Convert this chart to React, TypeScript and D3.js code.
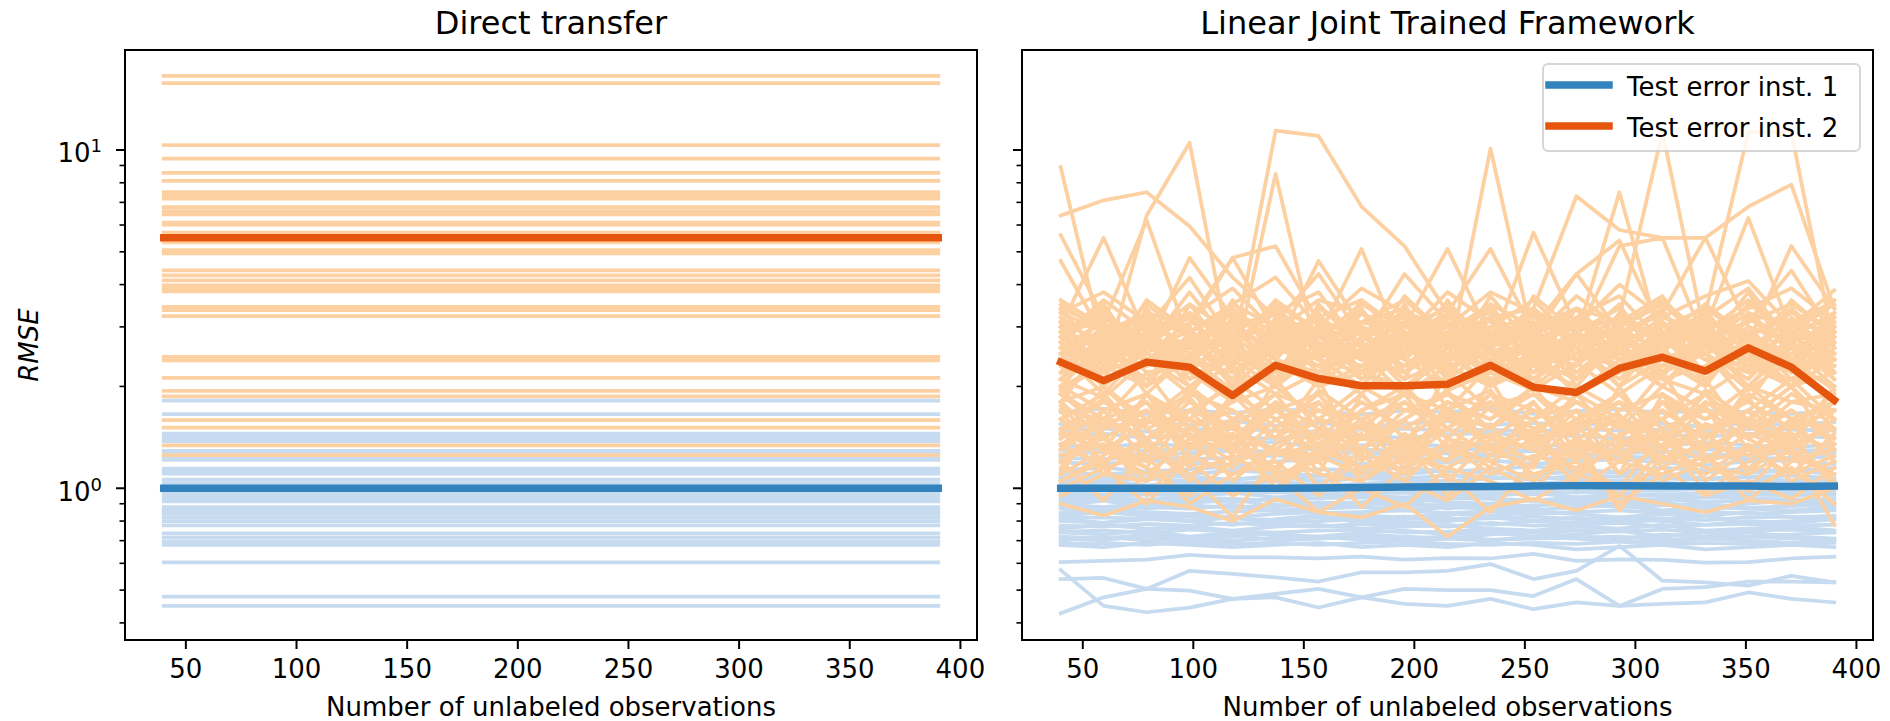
import React from "react";
import * as d3 from "d3";

// ---------- data ----------
const xs = [40, 59.44, 78.89, 98.33, 117.78, 137.22, 156.67, 176.11, 195.56, 215, 234.44, 253.89, 273.33, 292.78, 312.22, 331.67, 351.11, 370.56, 390];
const xTicks = [50, 100, 150, 200, 250, 300, 350, 400];
const yMajorTicks = [1, 10];
const yMinorTicks = [0.4, 0.5, 0.6, 0.7, 0.8, 0.9, 2, 3, 4, 5, 6, 7, 8, 9];

// Direct transfer: constant errors per instance
const leftOrange = [16.55, 15.75, 10.33, 9.43, 8.55, 8.11, 7.51, 7.34, 7.18, 6.78, 6.6, 6.45, 6.1, 6.02, 5.7, 5.33, 5.06, 4.95, 4.41, 4.26, 4.12, 3.98, 3.9, 3.82, 3.44, 3.36, 3.23, 2.446, 2.39, 2.12, 1.94, 1.87, 1.59, 1.51, 1.34, 1.254];
const leftBlue = [1.815, 1.655, 1.45, 1.42, 1.395, 1.376, 1.29, 1.27, 1.235, 1.214, 1.144, 1.125, 1.104, 1.06, 1.035, 0.975, 0.955, 0.935, 0.915, 0.88, 0.86, 0.84, 0.82, 0.8, 0.777, 0.735, 0.715, 0.695, 0.68, 0.604, 0.478, 0.449];
const leftOrangeMean = 5.5;
const leftBlueMean = 1.0;

// Linear Joint Trained Framework
const rightOrangeMean = [2.36, 2.08, 2.36, 2.28, 1.88, 2.31, 2.11, 2.01, 2.01, 2.03, 2.31, 1.99, 1.92, 2.26, 2.44, 2.22, 2.6, 2.28, 1.82];
const rightBlueMean = [1.0, 1.0, 1.0, 1.0, 1.0, 1.0, 1.002, 1.005, 1.008, 1.01, 1.012, 1.015, 1.018, 1.018, 1.015, 1.015, 1.015, 1.012, 1.015];

const rightBlueLow = [
  [0.427, 0.476, 0.504, 0.57, 0.558, 0.545, 0.53, 0.564, 0.564, 0.57, 0.597, 0.539, 0.57, 0.676, 0.533, 0.527, 0.515, 0.551, 0.527],
  [0.573, 0.449, 0.43, 0.444, 0.471, 0.476, 0.444, 0.476, 0.455, 0.449, 0.471, 0.439, 0.46, 0.449, 0.455, 0.46, 0.492, 0.471, 0.46],
  [0.539, 0.543, 0.504, 0.498, 0.471, 0.487, 0.504, 0.476, 0.504, 0.5, 0.5, 0.48, 0.539, 0.449, 0.504, 0.51, 0.53, 0.53, 0.527],
  [0.605, 0.61, 0.615, 0.635, 0.625, 0.625, 0.62, 0.628, 0.615, 0.622, 0.62, 0.64, 0.61, 0.616, 0.614, 0.603, 0.605, 0.62, 0.628],
];

const rightBlueDense = [
  [0.68, 0.67, 0.69, 0.68, 0.67, 0.68, 0.69, 0.67, 0.68, 0.67, 0.69, 0.68, 0.66, 0.67, 0.68, 0.66, 0.67, 0.68, 0.67],
  [0.7, 0.72, 0.7, 0.71, 0.73, 0.7, 0.71, 0.72, 0.7, 0.71, 0.7, 0.72, 0.71, 0.7, 0.69, 0.71, 0.7, 0.69, 0.7],
  [0.74, 0.73, 0.75, 0.72, 0.74, 0.73, 0.72, 0.74, 0.75, 0.73, 0.74, 0.72, 0.73, 0.75, 0.72, 0.74, 0.72, 0.73, 0.74],
  [0.76, 0.78, 0.76, 0.77, 0.75, 0.77, 0.78, 0.76, 0.77, 0.78, 0.76, 0.75, 0.77, 0.76, 0.78, 0.75, 0.76, 0.77, 0.75],
  [0.8, 0.79, 0.81, 0.8, 0.82, 0.79, 0.8, 0.81, 0.79, 0.8, 0.82, 0.8, 0.79, 0.81, 0.8, 0.78, 0.8, 0.79, 0.81],
  [0.83, 0.85, 0.83, 0.84, 0.82, 0.84, 0.85, 0.83, 0.82, 0.84, 0.83, 0.85, 0.84, 0.82, 0.84, 0.83, 0.85, 0.82, 0.83],
  [0.87, 0.86, 0.88, 0.87, 0.89, 0.86, 0.87, 0.88, 0.86, 0.88, 0.87, 0.86, 0.88, 0.89, 0.86, 0.88, 0.87, 0.86, 0.88],
  [0.91, 0.93, 0.9, 0.92, 0.91, 0.93, 0.9, 0.91, 0.93, 0.91, 0.9, 0.92, 0.91, 0.9, 0.93, 0.91, 0.92, 0.9, 0.91],
  [0.95, 0.94, 0.96, 0.95, 0.97, 0.94, 0.96, 0.95, 0.94, 0.96, 0.95, 0.97, 0.94, 0.96, 0.95, 0.94, 0.96, 0.95, 0.97],
  [0.98, 0.99, 0.97, 0.98, 0.99, 0.97, 0.98, 1.0, 0.98, 0.97, 0.99, 0.98, 0.97, 0.99, 0.98, 1.0, 0.97, 0.98, 0.99],
  [1.03, 1.05, 1.02, 1.04, 1.03, 1.05, 1.02, 1.03, 1.05, 1.04, 1.02, 1.03, 1.05, 1.03, 1.04, 1.02, 1.05, 1.03, 1.04],
  [1.08, 1.07, 1.1, 1.08, 1.06, 1.09, 1.08, 1.1, 1.07, 1.09, 1.08, 1.06, 1.09, 1.08, 1.1, 1.07, 1.08, 1.09, 1.07],
  [1.13, 1.15, 1.12, 1.14, 1.16, 1.12, 1.14, 1.13, 1.15, 1.12, 1.14, 1.16, 1.13, 1.12, 1.15, 1.13, 1.14, 1.12, 1.15],
  [1.19, 1.18, 1.21, 1.19, 1.17, 1.2, 1.22, 1.18, 1.2, 1.19, 1.21, 1.18, 1.2, 1.22, 1.19, 1.17, 1.2, 1.21, 1.18],
  [1.26, 1.28, 1.25, 1.27, 1.29, 1.25, 1.26, 1.28, 1.25, 1.27, 1.26, 1.29, 1.25, 1.27, 1.28, 1.26, 1.25, 1.28, 1.27],
  [1.34, 1.32, 1.36, 1.33, 1.35, 1.37, 1.32, 1.34, 1.36, 1.33, 1.35, 1.32, 1.36, 1.34, 1.33, 1.37, 1.34, 1.32, 1.35],
  [1.43, 1.45, 1.41, 1.44, 1.42, 1.4, 1.45, 1.43, 1.41, 1.44, 1.46, 1.42, 1.43, 1.4, 1.44, 1.42, 1.45, 1.43, 1.41],
  [1.55, 1.52, 1.57, 1.54, 1.58, 1.53, 1.56, 1.52, 1.55, 1.58, 1.54, 1.56, 1.53, 1.57, 1.55, 1.52, 1.56, 1.54, 1.57],
  [1.68, 1.72, 1.66, 1.7, 1.67, 1.71, 1.69, 1.65, 1.7, 1.68, 1.72, 1.66, 1.69, 1.71, 1.67, 1.7, 1.68, 1.66, 1.7],
  [0.89, 0.92, 0.87, 0.9, 0.93, 0.88, 0.91, 0.89, 0.92, 0.87, 0.9, 0.88, 0.93, 0.89, 0.91, 0.87, 0.9, 0.92, 0.88],
  [0.81, 0.79, 0.82, 0.8, 0.78, 0.81, 0.83, 0.79, 0.81, 0.82, 0.78, 0.8, 0.82, 0.79, 0.81, 0.83, 0.79, 0.8, 0.82],
  [1.01, 1.03, 1.0, 1.02, 1.04, 1.01, 1.03, 1.0, 1.02, 1.04, 1.01, 1.0, 1.03, 1.02, 1.0, 1.03, 1.01, 1.04, 1.02],
  [1.11, 1.1, 1.12, 1.1, 1.13, 1.11, 1.09, 1.12, 1.1, 1.13, 1.11, 1.1, 1.12, 1.11, 1.09, 1.12, 1.11, 1.13, 1.1],
  [0.72, 0.71, 0.73, 0.71, 0.72, 0.74, 0.71, 0.73, 0.72, 0.71, 0.73, 0.74, 0.72, 0.71, 0.73, 0.72, 0.74, 0.72, 0.71],
  [0.685, 0.69, 0.68, 0.695, 0.685, 0.69, 0.68, 0.69, 0.695, 0.685, 0.68, 0.69, 0.685, 0.695, 0.68, 0.69, 0.685, 0.68, 0.69],
  [0.71, 0.705, 0.72, 0.71, 0.7, 0.715, 0.72, 0.705, 0.71, 0.72, 0.705, 0.71, 0.715, 0.72, 0.705, 0.71, 0.72, 0.71, 0.705],
  [0.745, 0.75, 0.74, 0.755, 0.745, 0.74, 0.75, 0.755, 0.74, 0.745, 0.755, 0.74, 0.75, 0.745, 0.755, 0.74, 0.75, 0.755, 0.745],
  [0.775, 0.77, 0.785, 0.775, 0.79, 0.775, 0.77, 0.785, 0.78, 0.77, 0.79, 0.775, 0.78, 0.79, 0.77, 0.78, 0.785, 0.775, 0.78],
  [0.815, 0.82, 0.81, 0.825, 0.815, 0.805, 0.82, 0.815, 0.825, 0.81, 0.815, 0.825, 0.81, 0.82, 0.815, 0.805, 0.82, 0.825, 0.81],
  [0.845, 0.86, 0.85, 0.84, 0.855, 0.86, 0.845, 0.85, 0.86, 0.845, 0.855, 0.84, 0.85, 0.86, 0.845, 0.855, 0.84, 0.85, 0.86],
  [0.895, 0.88, 0.9, 0.89, 0.875, 0.895, 0.88, 0.9, 0.885, 0.895, 0.875, 0.89, 0.9, 0.88, 0.89, 0.9, 0.875, 0.885, 0.9],
  [0.93, 0.935, 0.925, 0.94, 0.93, 0.92, 0.935, 0.94, 0.925, 0.935, 0.93, 0.92, 0.94, 0.93, 0.925, 0.94, 0.935, 0.925, 0.93],
  [0.965, 0.96, 0.97, 0.955, 0.965, 0.975, 0.96, 0.965, 0.97, 0.955, 0.965, 0.96, 0.975, 0.965, 0.955, 0.97, 0.96, 0.965, 0.955],
  [1.06, 1.05, 1.07, 1.05, 1.06, 1.08, 1.05, 1.07, 1.06, 1.05, 1.07, 1.08, 1.06, 1.05, 1.07, 1.06, 1.08, 1.05, 1.06],
  [1.23, 1.22, 1.24, 1.22, 1.23, 1.25, 1.22, 1.24, 1.23, 1.22, 1.25, 1.23, 1.22, 1.24, 1.23, 1.25, 1.22, 1.23, 1.24],
  [1.3, 1.31, 1.29, 1.31, 1.3, 1.28, 1.31, 1.3, 1.29, 1.31, 1.3, 1.29, 1.31, 1.3, 1.28, 1.3, 1.31, 1.29, 1.3],
  [1.48, 1.5, 1.47, 1.49, 1.5, 1.48, 1.47, 1.49, 1.5, 1.48, 1.49, 1.47, 1.5, 1.48, 1.49, 1.47, 1.5, 1.49, 1.48],
];

const rightOrangeOutliers = [
  [8.9, 2.6, 3.0, 2.2, 1.9, 2.8, 2.4, 2.0, 2.9, 1.7, 2.3, 2.6, 1.9, 2.2, 3.1, 2.5, 1.8, 2.7, 2.3],
  [6.4, 7.1, 7.5, 5.95, 4.2, 3.2, 2.5, 2.9, 3.1, 2.1, 2.6, 3.0, 2.2, 2.8, 2.4, 2.0, 3.3, 2.6, 2.9],
  [2.8, 2.2, 6.4, 10.5, 2.3, 3.0, 2.7, 2.2, 1.9, 2.6, 3.2, 2.4, 2.1, 2.9, 2.2, 2.8, 2.5, 2.0, 2.4],
  [2.1, 2.9, 2.4, 2.7, 2.5, 11.4, 11.0, 6.8, 5.2, 3.3, 2.6, 2.2, 2.9, 2.4, 2.7, 3.1, 2.3, 2.6, 2.0],
  [3.0, 2.5, 2.8, 3.2, 2.2, 8.5, 2.4, 2.0, 2.7, 2.9, 2.3, 2.8, 2.5, 3.0, 2.2, 2.6, 2.9, 2.3, 2.7],
  [5.6, 3.2, 2.6, 2.9, 3.3, 2.7, 2.4, 3.0, 2.6, 2.3, 10.1, 2.7, 3.1, 2.4, 2.8, 2.5, 3.0, 2.2, 2.6],
  [2.4, 2.9, 3.3, 2.5, 2.1, 3.1, 2.6, 2.9, 2.2, 2.8, 2.4, 3.4, 7.3, 5.8, 5.5, 5.5, 6.8, 7.9, 3.4],
  [2.6, 2.2, 2.9, 2.4, 3.0, 2.5, 3.2, 2.7, 2.3, 2.9, 2.6, 2.1, 2.8, 7.5, 2.6, 3.0, 2.4, 2.9, 2.5],
  [2.9, 3.1, 2.4, 2.8, 2.6, 2.2, 2.9, 2.5, 3.0, 2.7, 3.2, 2.4, 2.9, 3.2, 11.3, 2.8, 2.3, 2.7, 3.0],
  [2.3, 2.7, 2.5, 2.2, 2.9, 2.6, 2.3, 2.8, 2.4, 3.1, 2.5, 2.9, 2.6, 2.3, 2.7, 3.3, 11.3, 11.3, 2.6],
];

const rightOrangeDense = [
  [3.2, 2.6, 3.5, 2.8, 3.1, 2.5, 3.4, 2.9, 3.3, 2.4, 3.0, 3.6, 2.7, 3.2, 2.8, 3.5, 2.6, 3.1, 2.9],
  [2.7, 3.4, 2.5, 3.1, 4.8, 2.9, 2.6, 3.3, 2.8, 3.5, 2.7, 3.0, 3.4, 2.6, 3.2, 2.9, 3.6, 2.8, 3.3],
  [3.5, 2.9, 3.0, 4.2, 2.7, 3.3, 3.8, 2.6, 3.1, 2.8, 3.4, 2.5, 3.2, 3.7, 2.7, 3.1, 2.8, 3.4, 2.6],
  [2.9, 3.3, 2.7, 2.6, 3.5, 3.0, 2.8, 5.1, 2.5, 3.2, 2.9, 3.3, 2.6, 3.0, 3.5, 2.7, 3.1, 4.4, 2.8],
  [3.0, 5.5, 2.8, 3.3, 2.6, 3.6, 2.9, 3.1, 3.4, 2.7, 3.0, 2.8, 4.3, 2.9, 3.3, 2.6, 3.5, 2.9, 3.2],
  [4.7, 2.8, 3.2, 2.9, 3.4, 2.6, 4.7, 3.0, 2.7, 3.3, 5.1, 2.9, 3.1, 2.7, 3.0, 3.4, 2.8, 3.3, 3.0],
  [2.6, 3.1, 6.2, 2.7, 3.0, 3.3, 2.8, 3.5, 3.0, 5.1, 2.8, 3.2, 2.9, 3.4, 2.6, 3.0, 6.3, 2.9, 2.7],
  [3.3, 2.9, 2.6, 4.8, 3.2, 2.8, 3.0, 2.7, 4.3, 3.1, 2.6, 5.7, 3.0, 2.8, 3.3, 5.5, 3.0, 2.7, 3.1],
  [3.1, 2.7, 3.3, 3.0, 4.8, 5.2, 3.1, 2.9, 3.2, 2.6, 3.5, 3.0, 4.3, 5.4, 2.9, 3.2, 2.7, 5.2, 3.4],
  [2.8, 3.6, 2.9, 3.3, 2.7, 3.1, 4.3, 2.8, 3.0, 3.4, 2.7, 3.1, 2.8, 5.2, 5.5, 2.7, 3.3, 3.0, 3.85],
  [3.4, 3.0, 3.1, 2.6, 3.3, 2.9, 3.2, 3.6, 2.7, 3.0, 3.3, 2.6, 3.4, 3.1, 2.8, 3.2, 3.9, 2.7, 3.0],
  [2.5, 3.2, 2.8, 3.5, 2.9, 3.3, 2.6, 3.1, 3.6, 2.8, 3.2, 3.4, 2.7, 3.0, 3.6, 2.8, 3.1, 3.5, 2.9],
  [2.2, 2.8, 1.9, 2.5, 2.1, 2.7, 2.3, 1.9, 2.6, 2.2, 2.9, 2.0, 2.5, 2.3, 2.8, 2.1, 2.6, 2.2, 2.4],
  [2.6, 2.0, 2.7, 2.2, 2.9, 2.4, 2.0, 2.6, 2.3, 2.8, 2.1, 2.5, 2.9, 2.2, 2.4, 2.7, 2.0, 2.6, 2.3],
  [1.9, 2.5, 2.3, 2.8, 2.0, 2.6, 2.9, 2.2, 2.0, 2.5, 2.3, 2.7, 2.1, 2.6, 2.2, 2.5, 2.8, 2.1, 2.5],
  [2.4, 2.2, 2.8, 2.0, 2.5, 2.1, 2.7, 2.4, 2.9, 2.1, 2.6, 2.3, 2.0, 2.8, 2.5, 2.2, 2.4, 2.9, 2.1],
  [2.8, 2.4, 2.1, 2.6, 2.3, 2.9, 2.2, 2.7, 2.1, 2.4, 2.8, 2.2, 2.6, 2.0, 2.9, 2.4, 2.2, 2.5, 2.7],
  [2.1, 2.6, 2.4, 1.9, 2.7, 2.2, 2.5, 2.9, 2.4, 2.0, 2.3, 2.8, 2.4, 2.6, 2.0, 2.8, 2.5, 2.3, 2.0],
  [2.5, 1.9, 2.6, 2.4, 2.2, 2.8, 2.0, 2.3, 2.7, 2.5, 2.0, 2.6, 2.3, 2.9, 2.1, 2.3, 2.7, 2.0, 2.8],
  [2.3, 2.7, 2.0, 2.9, 2.4, 2.0, 2.6, 2.1, 2.5, 2.9, 2.4, 2.1, 2.8, 2.2, 2.6, 2.0, 2.9, 2.4, 2.2],
  [2.0, 2.3, 2.8, 2.2, 1.8, 2.5, 2.8, 2.4, 2.2, 2.7, 2.1, 2.4, 2.6, 2.1, 2.7, 2.5, 2.1, 2.8, 2.4],
  [2.7, 2.1, 2.4, 2.6, 2.8, 2.3, 2.1, 2.8, 2.6, 2.2, 2.7, 2.9, 2.2, 2.5, 2.3, 2.9, 2.3, 2.1, 2.6],
  [2.4, 2.9, 2.2, 2.3, 2.6, 2.1, 2.9, 2.5, 2.2, 2.6, 2.0, 2.3, 2.7, 2.4, 2.0, 2.6, 2.4, 2.7, 2.2],
  [2.2, 2.4, 2.6, 2.7, 2.1, 2.9, 2.4, 2.2, 2.8, 2.3, 2.5, 2.7, 2.1, 2.7, 2.5, 2.2, 2.8, 2.3, 2.9],
  [2.9, 2.2, 2.5, 2.1, 2.4, 2.6, 2.3, 2.7, 2.0, 2.4, 2.9, 2.1, 2.5, 2.3, 2.8, 2.4, 2.0, 2.7, 2.1],
  [1.8, 2.6, 2.1, 2.5, 2.8, 2.0, 2.5, 2.3, 2.7, 2.0, 2.3, 2.6, 2.8, 2.0, 2.4, 2.7, 2.2, 2.5, 2.4],
  [1.6, 1.9, 1.4, 1.8, 1.5, 1.9, 1.3, 1.7, 2.0, 1.5, 1.8, 1.4, 1.9, 1.6, 1.4, 1.8, 1.5, 1.9, 1.6],
  [1.8, 1.4, 1.7, 1.3, 1.9, 1.6, 1.8, 1.4, 1.6, 1.9, 1.5, 1.8, 1.3, 1.7, 1.9, 1.5, 1.7, 1.4, 1.8],
  [1.4, 1.7, 1.9, 1.6, 1.4, 1.8, 1.5, 1.9, 1.4, 1.7, 1.3, 1.6, 1.8, 1.5, 1.7, 1.4, 1.9, 1.6, 1.5],
  [1.9, 1.5, 1.6, 1.9, 1.7, 1.4, 1.7, 1.6, 1.8, 1.4, 1.9, 1.7, 1.5, 1.9, 1.5, 1.7, 1.4, 1.8, 1.9],
  [1.5, 1.8, 1.5, 1.7, 2.0, 1.5, 1.9, 1.3, 1.7, 1.6, 1.8, 1.5, 1.7, 1.4, 1.8, 1.6, 1.8, 1.5, 1.7],
  [1.7, 1.6, 1.8, 1.4, 1.6, 1.7, 1.4, 1.8, 1.5, 1.8, 1.6, 1.9, 1.6, 1.8, 1.6, 1.9, 1.5, 1.7, 1.4],
  [1.3, 1.6, 1.4, 1.7, 1.5, 1.3, 1.6, 1.5, 1.3, 1.6, 1.4, 1.7, 1.4, 1.6, 1.3, 1.5, 1.6, 1.3, 1.6],
  [2.0, 1.7, 1.9, 1.5, 1.8, 2.0, 1.6, 2.0, 1.7, 1.9, 1.7, 1.6, 2.0, 1.7, 1.9, 1.6, 2.0, 1.8, 1.7],
  [1.6, 1.3, 1.9, 1.5, 1.3, 1.7, 1.9, 1.4, 1.8, 1.5, 1.9, 1.3, 1.6, 1.9, 1.4, 1.9, 1.3, 1.6, 1.8],
  [1.8, 2.0, 1.6, 2.0, 1.6, 1.9, 1.7, 1.5, 1.9, 1.7, 1.5, 2.0, 1.8, 1.5, 2.0, 1.7, 1.6, 2.0, 1.5],
  [1.2, 0.92, 1.3, 1.1, 1.25, 1.05, 1.3, 1.15, 1.2, 1.35, 1.1, 1.25, 1.15, 1.3, 1.05, 1.2, 1.3, 1.1, 1.25],
  [1.1, 1.3, 1.15, 0.95, 1.2, 1.3, 1.1, 1.05, 1.25, 1.15, 1.35, 1.1, 1.2, 0.95, 1.3, 1.15, 1.1, 1.3, 0.78],
  [1.35, 1.15, 0.9, 1.25, 1.1, 1.3, 1.2, 0.88, 1.15, 1.3, 1.2, 1.05, 1.35, 1.2, 1.1, 1.25, 0.92, 1.2, 1.3],
  [0.9, 0.83, 0.92, 0.88, 0.8, 0.93, 0.85, 0.82, 0.9, 0.72, 0.88, 0.93, 0.86, 0.95, 0.9, 0.85, 0.92, 0.9, 1.0],
  [1.05, 1.2, 1.4, 1.1, 0.82, 1.25, 1.35, 1.15, 1.3, 1.1, 0.85, 1.2, 1.4, 0.86, 1.25, 1.1, 1.35, 1.05, 1.2],
  [1.45, 1.3, 1.1, 1.4, 1.3, 1.15, 1.45, 1.25, 1.05, 1.4, 1.3, 1.45, 1.1, 1.35, 1.4, 1.2, 1.45, 1.3, 1.1],
  [0.95, 1.1, 1.05, 1.2, 0.95, 1.1, 0.85, 1.0, 0.88, 1.15, 1.05, 0.92, 1.1, 1.0, 1.15, 0.95, 1.05, 0.93, 1.15],
  [1.25, 1.4, 1.2, 1.35, 1.45, 1.3, 1.25, 1.4, 1.35, 1.2, 1.45, 1.3, 1.25, 1.4, 1.2, 1.35, 1.25, 1.45, 1.3],
  [1.1, 1.7, 1.2, 2.0, 1.3, 1.8, 1.1, 1.9, 1.4, 1.2, 2.1, 1.3, 1.7, 1.1, 1.9, 1.2, 1.6, 2.0, 1.3],
  [1.7, 1.15, 1.9, 1.3, 1.6, 1.1, 1.8, 1.25, 2.0, 1.4, 1.15, 1.8, 1.2, 2.0, 1.3, 1.75, 1.1, 1.5, 1.9],
  [1.3, 2.0, 1.5, 1.15, 1.9, 1.4, 2.1, 1.2, 1.6, 1.95, 1.3, 1.15, 1.9, 1.35, 1.6, 2.1, 1.4, 1.2, 1.7],
  [2.0, 1.4, 1.15, 1.7, 1.25, 2.1, 1.5, 1.3, 1.1, 1.8, 1.6, 2.0, 1.4, 1.2, 1.8, 1.3, 2.0, 1.6, 1.2],
  [1.15, 1.5, 1.8, 1.2, 1.45, 1.0, 1.3, 1.7, 1.2, 1.5, 1.9, 1.4, 1.1, 1.6, 1.15, 1.4, 1.7, 1.1, 1.45],
  [1.5, 1.1, 1.4, 1.6, 1.05, 1.35, 1.6, 1.1, 1.45, 1.2, 1.55, 1.05, 1.4, 1.25, 1.5, 1.05, 1.3, 1.55, 1.2],
  [1.25, 1.35, 1.05, 1.5, 1.35, 1.1, 1.2, 1.45, 1.1, 1.3, 1.2, 1.4, 1.55, 1.1, 1.35, 1.45, 1.15, 1.4, 1.05],
  [1.9, 1.6, 2.2, 1.5, 1.7, 1.4, 1.95, 1.6, 1.3, 2.2, 1.7, 1.45, 1.8, 1.55, 2.2, 1.4, 1.7, 2.1, 1.6],
  [1.45, 1.85, 1.3, 1.6, 2.1, 1.7, 1.35, 1.7, 1.9, 1.3, 1.75, 1.9, 1.45, 1.8, 1.3, 1.95, 1.6, 1.35, 2.0],
  [1.05, 1.25, 1.6, 1.35, 1.15, 1.5, 1.0, 1.3, 1.6, 1.05, 1.4, 1.3, 1.05, 1.45, 1.6, 1.25, 1.0, 1.35, 1.5],
  [1.6, 1.2, 1.35, 1.05, 1.55, 1.25, 1.5, 1.05, 1.35, 1.5, 1.25, 1.6, 1.2, 1.0, 1.45, 1.3, 1.55, 1.25, 1.1],
  [1.35, 1.55, 1.7, 1.45, 1.2, 1.6, 1.25, 1.55, 1.15, 1.65, 1.4, 1.2, 1.55, 1.65, 1.2, 1.55, 1.4, 1.7, 1.35],
  [1.2, 1.45, 0.95, 1.3, 1.55, 0.98, 1.25, 1.1, 1.4, 0.95, 1.25, 1.5, 1.0, 1.2, 1.45, 0.97, 1.2, 1.45, 1.0],
  [1.75, 1.3, 1.55, 1.85, 1.35, 1.75, 1.3, 1.6, 1.25, 1.7, 1.95, 1.35, 1.6, 1.3, 1.7, 1.4, 1.85, 1.3, 1.6],
  [1.0, 1.15, 1.25, 0.9, 1.1, 1.2, 0.95, 1.25, 1.05, 0.92, 1.15, 1.0, 1.3, 0.9, 1.1, 1.25, 0.98, 1.15, 0.9],
  [2.2, 3.3, 2.4, 3.0, 2.0, 3.2, 2.5, 3.4, 2.2, 3.1, 2.3, 3.3, 2.1, 3.0, 2.5, 3.4, 2.2, 3.1, 2.4],
  [3.1, 2.1, 3.4, 2.3, 3.2, 2.0, 3.0, 2.4, 3.3, 2.1, 3.2, 2.3, 3.4, 2.2, 3.1, 2.0, 3.3, 2.3, 3.2],
  [2.5, 2.9, 2.0, 3.5, 2.4, 2.7, 3.3, 2.1, 2.8, 3.3, 2.0, 2.9, 3.4, 2.4, 2.9, 2.2, 3.2, 2.6, 2.3],
  [3.4, 2.4, 2.9, 2.3, 3.6, 2.4, 2.2, 3.3, 2.5, 2.9, 3.5, 2.3, 2.7, 3.5, 2.2, 3.0, 2.4, 3.6, 2.8],
  [2.0, 2.7, 3.1, 2.1, 2.6, 3.4, 2.7, 2.2, 3.5, 2.2, 2.8, 3.1, 2.0, 2.8, 3.4, 2.1, 2.7, 2.9, 3.5],
  [2.7, 3.5, 2.3, 2.6, 3.1, 2.1, 3.5, 2.6, 2.1, 3.6, 2.5, 2.0, 3.2, 2.7, 2.1, 3.5, 2.8, 2.2, 3.3],
  [3.0, 2.3, 3.6, 2.9, 2.3, 3.0, 2.4, 3.6, 2.9, 2.3, 3.7, 2.6, 2.4, 3.1, 3.7, 2.5, 2.1, 3.2, 2.5],
  [2.4, 3.0, 2.6, 3.8, 2.6, 3.5, 2.9, 2.4, 3.7, 2.8, 2.2, 3.7, 2.9, 2.5, 3.1, 2.6, 3.8, 2.4, 3.0],
  [1.9, 2.4, 3.2, 2.5, 2.9, 2.4, 3.3, 2.2, 2.5, 3.3, 2.9, 2.5, 2.3, 3.3, 2.6, 2.9, 2.3, 3.4, 2.2],
  [2.9, 2.0, 2.6, 3.3, 2.2, 2.8, 2.0, 3.1, 2.9, 2.1, 2.6, 3.4, 2.6, 2.0, 2.8, 3.3, 2.5, 2.0, 2.9],
  [3.6, 3.0, 2.7, 3.2, 3.9, 2.9, 3.6, 3.3, 2.8, 3.8, 3.1, 2.8, 3.7, 3.0, 3.5, 2.9, 3.4, 3.9, 3.1],
  [3.3, 3.8, 3.1, 2.9, 3.5, 4.2, 3.0, 3.9, 3.3, 3.0, 3.8, 3.3, 3.0, 4.0, 3.2, 3.7, 4.1, 3.0, 3.6],
  [2.1, 1.85, 2.4, 2.0, 2.3, 1.9, 2.2, 2.5, 1.9, 2.3, 2.0, 2.5, 1.9, 2.4, 2.1, 1.9, 2.3, 2.0, 2.2],
  [1.95, 2.3, 2.0, 2.45, 1.95, 2.35, 2.0, 2.2, 2.45, 1.95, 2.2, 1.95, 2.35, 1.9, 2.3, 2.5, 1.95, 2.4, 1.95],
];

const titles = ["Direct transfer", "Linear Joint Trained Framework"];
const xLabel = "Number of unlabeled observations";
const yLabel = "RMSE";
const legendLabels = ["Test error inst. 1", "Test error inst. 2"];

// ---------- style ----------
const LIGHT_ORANGE = "#fdd0a2";
const LIGHT_BLUE = "#c6dbef";
const BLUE = "#3182bd";
const ORANGE = "#e6550d";
const FONT = "DejaVu Sans, Verdana, sans-serif";
const THIN = 3.75;
const BOLD = 7.5;

const TOP = 50;
const BOTTOM = 640;
const panels = [
  { left: 125, right: 977 },
  { left: 1022, right: 1873 },
];

export default function App() {
  const y = d3.scaleLog().domain([0.356, 19.75]).range([BOTTOM, TOP]);

  const renderPanel = (pi: number) => {
    const { left, right } = panels[pi];
    const x = d3.scaleLinear().domain([22.5, 407.5]).range([left, right]);
    const line = d3
      .line<[number, number]>()
      .x((d) => x(d[0]))
      .y((d) => y(d[1]));
    const series = (vals: number[]) => line(vals.map((v, i) => [xs[i], v] as [number, number])) || "";
    const flat = (v: number) => line([[xs[0], v], [xs[xs.length - 1], v]]) || "";
    const clipId = `clip${pi}`;

    const paths: JSX.Element[] = [];
    if (pi === 0) {
      leftBlue.forEach((v, i) =>
        paths.push(<path key={`lb${i}`} d={flat(v)} stroke={LIGHT_BLUE} strokeWidth={THIN} fill="none" strokeLinecap="square" />)
      );
      leftOrange.forEach((v, i) =>
        paths.push(<path key={`lo${i}`} d={flat(v)} stroke={LIGHT_ORANGE} strokeWidth={THIN} fill="none" strokeLinecap="square" />)
      );
      paths.push(<path key="lbm" d={flat(leftBlueMean)} stroke={BLUE} strokeWidth={BOLD} fill="none" strokeLinecap="square" />);
      paths.push(<path key="lom" d={flat(leftOrangeMean)} stroke={ORANGE} strokeWidth={BOLD} fill="none" strokeLinecap="square" />);
    } else {
      [...rightBlueLow, ...rightBlueDense].forEach((s, i) =>
        paths.push(<path key={`rb${i}`} d={series(s)} stroke={LIGHT_BLUE} strokeWidth={THIN} fill="none" strokeLinecap="square" strokeLinejoin="round" />)
      );
      [...rightOrangeDense, ...rightOrangeOutliers].forEach((s, i) =>
        paths.push(<path key={`ro${i}`} d={series(s)} stroke={LIGHT_ORANGE} strokeWidth={THIN} fill="none" strokeLinecap="square" strokeLinejoin="round" />)
      );
      paths.push(<path key="rbm" d={series(rightBlueMean)} stroke={BLUE} strokeWidth={BOLD} fill="none" strokeLinecap="square" strokeLinejoin="round" />);
      paths.push(<path key="rom" d={series(rightOrangeMean)} stroke={ORANGE} strokeWidth={BOLD} fill="none" strokeLinecap="square" strokeLinejoin="round" />);
    }

    return (
      <g key={`p${pi}`}>
        <defs>
          <clipPath id={clipId}>
            <rect x={left} y={TOP} width={right - left} height={BOTTOM - TOP} />
          </clipPath>
        </defs>
        <g clipPath={`url(#${clipId})`}>{paths}</g>
        <rect x={left} y={TOP} width={right - left} height={BOTTOM - TOP} fill="none" stroke="#000" strokeWidth={2} />
        {xTicks.map((t) => (
          <g key={`xt${t}`}>
            <line x1={x(t)} x2={x(t)} y1={BOTTOM} y2={BOTTOM + 9} stroke="#000" strokeWidth={2} />
            <text x={x(t)} y={678} textAnchor="middle" fontSize={26} fontFamily={FONT} fill="#000">
              {t}
            </text>
          </g>
        ))}
        {yMajorTicks.map((t) => (
          <line key={`ym${t}`} x1={left - 9} x2={left} y1={y(t)} y2={y(t)} stroke="#000" strokeWidth={2} />
        ))}
        {yMinorTicks.map((t) => (
          <line key={`yn${t}`} x1={left - 5.5} x2={left} y1={y(t)} y2={y(t)} stroke="#000" strokeWidth={1.6} />
        ))}
        {pi === 0 &&
          yMajorTicks.map((t) => (
            <text key={`yl${t}`} x={102} y={y(t) + 12.5} textAnchor="end" fontSize={26} fontFamily={FONT} fill="#000">
              10
              <tspan dy={-10} fontSize={18}>
                {Math.round(Math.log10(t))}
              </tspan>
            </text>
          ))}
        <text x={(left + right) / 2} y={34} textAnchor="middle" fontSize={32} fontFamily={FONT} fill="#000">
          {titles[pi]}
        </text>
        <text x={(left + right) / 2} y={716} textAnchor="middle" fontSize={26} fontFamily={FONT} fill="#000">
          {xLabel}
        </text>
      </g>
    );
  };

  return (
    <svg
      width={1890}
      height={721}
      viewBox="0 0 1890 721"
      style={{ position: "absolute", left: 0, top: 0, display: "block", background: "#fff" }}
    >
      <rect x={0} y={0} width={1890} height={721} fill="#fff" />
      {renderPanel(0)}
      {renderPanel(1)}
      <text
        transform={`translate(38, ${(TOP + BOTTOM) / 2}) rotate(-90)`}
        textAnchor="middle"
        fontSize={26}
        fontStyle="italic"
        fontFamily={FONT}
        fill="#000"
      >
        {yLabel}
      </text>
      <g>
        <rect x={1543} y={64} width={317} height={87} rx={5} fill="#fff" fillOpacity={0.8} stroke="#ccc" strokeOpacity={0.8} strokeWidth={2} />
        {[BLUE, ORANGE].map((c, i) => (
          <g key={`lg${i}`}>
            <line x1={1549} x2={1609} y1={85 + i * 41} y2={85 + i * 41} stroke={c} strokeWidth={BOLD} strokeLinecap="square" />
            <text x={1627} y={95.5 + i * 41} fontSize={26} fontFamily={FONT} fill="#000">
              {legendLabels[i]}
            </text>
          </g>
        ))}
      </g>
    </svg>
  );
}
